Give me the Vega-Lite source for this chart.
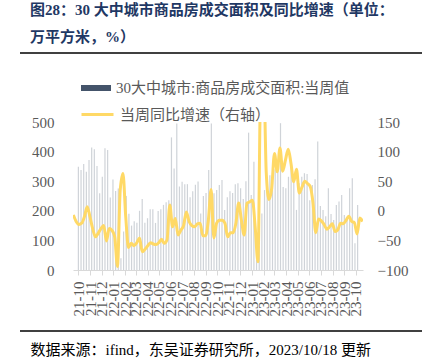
{
  "$schema": "https://vega.github.io/schema/vega-lite/v6.json",
  "width": 290,
  "height": 148,
  "autosize": "none",
  "padding": {"left": 73, "top": 122, "right": 61, "bottom": 94},
  "background": "white",
  "config": {"view": {"stroke": null}, "axisX": {"labelOverlap": false}},
  "title": {
    "text": ["图28：30 大中城市商品房成交面积及同比增速（单位：", "万平方米，%）"],
    "anchor": "start", "frame": "group", "dx": -43, "offset": 7,
    "font": "Liberation Serif, Noto Sans CJK SC", "fontSize": 15, "fontWeight": "bold",
    "color": "#1F3864", "lineHeight": 27
  },
  "data": {"values": [
    {"date": "2021-10-10", "v": 349, "y": -7},
    {"date": "2021-10-17", "v": 338, "y": -18},
    {"date": "2021-10-24", "v": 358, "y": -23},
    {"date": "2021-10-31", "v": 332, "y": -21},
    {"date": "2021-11-07", "v": 372, "y": -10},
    {"date": "2021-11-14", "v": 414, "y": 7},
    {"date": "2021-11-21", "v": 408, "y": -10},
    {"date": "2021-11-28", "v": 351, "y": -30},
    {"date": "2021-12-05", "v": 259, "y": -44},
    {"date": "2021-12-12", "v": 315, "y": -38},
    {"date": "2021-12-19", "v": 411, "y": -30},
    {"date": "2021-12-26", "v": 405, "y": -25},
    {"date": "2022-01-02", "v": 245, "y": -51},
    {"date": "2022-01-09", "v": 306, "y": -30},
    {"date": "2022-01-16", "v": 267, "y": -33},
    {"date": "2022-01-23", "v": 275, "y": -44},
    {"date": "2022-01-30", "v": 40, "y": -94},
    {"date": "2022-02-06", "v": 130, "y": 35},
    {"date": "2022-02-13", "v": 250, "y": 63},
    {"date": "2022-02-20", "v": 190, "y": -10},
    {"date": "2022-02-27", "v": 150, "y": -62},
    {"date": "2022-03-06", "v": 165, "y": -55},
    {"date": "2022-03-13", "v": 160, "y": -59},
    {"date": "2022-03-20", "v": 200, "y": -54},
    {"date": "2022-03-27", "v": 240, "y": -46},
    {"date": "2022-04-03", "v": 160, "y": -69},
    {"date": "2022-04-10", "v": 175, "y": -65},
    {"date": "2022-04-17", "v": 205, "y": -59},
    {"date": "2022-04-24", "v": 205, "y": -54},
    {"date": "2022-05-01", "v": 159, "y": -56},
    {"date": "2022-05-08", "v": 199, "y": -57},
    {"date": "2022-05-15", "v": 205, "y": -54},
    {"date": "2022-05-22", "v": 220, "y": -48},
    {"date": "2022-05-29", "v": 229, "y": -55},
    {"date": "2022-06-05", "v": 236, "y": -49},
    {"date": "2022-06-12", "v": 448, "y": 10},
    {"date": "2022-06-19", "v": 343, "y": -27},
    {"date": "2022-06-26", "v": 495, "y": -13},
    {"date": "2022-07-03", "v": 282, "y": -41},
    {"date": "2022-07-10", "v": 298, "y": -33},
    {"date": "2022-07-17", "v": 290, "y": -25},
    {"date": "2022-07-24", "v": 290, "y": -2},
    {"date": "2022-07-31", "v": 246, "y": -18},
    {"date": "2022-08-07", "v": 266, "y": -25},
    {"date": "2022-08-14", "v": 288, "y": -27},
    {"date": "2022-08-21", "v": 299, "y": -22},
    {"date": "2022-08-28", "v": 191, "y": -21},
    {"date": "2022-09-04", "v": 250, "y": -42},
    {"date": "2022-09-11", "v": 260, "y": -42},
    {"date": "2022-09-18", "v": 338, "y": -16},
    {"date": "2022-09-25", "v": 495, "y": 36},
    {"date": "2022-10-02", "v": 259, "y": -46},
    {"date": "2022-10-09", "v": 270, "y": -21},
    {"date": "2022-10-16", "v": 287, "y": -16},
    {"date": "2022-10-23", "v": 304, "y": -16},
    {"date": "2022-10-30", "v": 203, "y": -21},
    {"date": "2022-11-06", "v": 246, "y": -44},
    {"date": "2022-11-13", "v": 266, "y": -37},
    {"date": "2022-11-20", "v": 260, "y": -37},
    {"date": "2022-11-27", "v": 290, "y": -21},
    {"date": "2022-12-04", "v": 293, "y": 13},
    {"date": "2022-12-11", "v": 276, "y": -16},
    {"date": "2022-12-18", "v": 240, "y": -41},
    {"date": "2022-12-25", "v": 300, "y": 13},
    {"date": "2023-01-01", "v": 464, "y": 15},
    {"date": "2023-01-08", "v": 253, "y": 18},
    {"date": "2023-01-15", "v": 366, "y": -27},
    {"date": "2023-01-22", "v": 34, "y": -86},
    {"date": "2023-01-29", "v": 80, "y": 220},
    {"date": "2023-02-05", "v": 191, "y": 250},
    {"date": "2023-02-12", "v": 270, "y": 66},
    {"date": "2023-02-19", "v": 290, "y": 19},
    {"date": "2023-02-26", "v": 320, "y": 38},
    {"date": "2023-03-05", "v": 300, "y": 97},
    {"date": "2023-03-12", "v": 340, "y": 66},
    {"date": "2023-03-19", "v": 370, "y": 106},
    {"date": "2023-03-26", "v": 496, "y": 67},
    {"date": "2023-04-02", "v": 280, "y": 86},
    {"date": "2023-04-09", "v": 276, "y": 104},
    {"date": "2023-04-16", "v": 315, "y": 80},
    {"date": "2023-04-23", "v": 360, "y": 49},
    {"date": "2023-04-30", "v": 324, "y": 70},
    {"date": "2023-05-07", "v": 203, "y": 30},
    {"date": "2023-05-14", "v": 293, "y": 40},
    {"date": "2023-05-21", "v": 315, "y": 50},
    {"date": "2023-05-28", "v": 327, "y": 46},
    {"date": "2023-06-04", "v": 324, "y": 41},
    {"date": "2023-06-11", "v": 236, "y": 13},
    {"date": "2023-06-18", "v": 287, "y": -37},
    {"date": "2023-06-25", "v": 307, "y": -14},
    {"date": "2023-07-02", "v": 434, "y": -17},
    {"date": "2023-07-09", "v": 216, "y": -23},
    {"date": "2023-07-16", "v": 203, "y": -31},
    {"date": "2023-07-23", "v": 182, "y": -27},
    {"date": "2023-07-30", "v": 276, "y": -22},
    {"date": "2023-08-06", "v": 189, "y": -35},
    {"date": "2023-08-13", "v": 169, "y": -32},
    {"date": "2023-08-20", "v": 220, "y": -21},
    {"date": "2023-08-27", "v": 231, "y": -22},
    {"date": "2023-09-03", "v": 253, "y": -16},
    {"date": "2023-09-10", "v": 186, "y": -9},
    {"date": "2023-09-17", "v": 169, "y": -18},
    {"date": "2023-09-24", "v": 276, "y": -20},
    {"date": "2023-10-01", "v": 310, "y": -39},
    {"date": "2023-10-08", "v": 90, "y": -12},
    {"date": "2023-10-15", "v": 220, "y": -18}
  ]},
  "layer": [
    {
      "mark": {"type": "bar", "size": 1.2, "opacity": 0.26},
      "encoding": {
        "x": {
          "field": "date", "type": "temporal",
          "scale": {"type": "utc", "domain": [{"year": 2021, "month": 10, "date": 9, "utc": true}, {"year": 2023, "month": 10, "date": 16, "utc": true}]},
          "axis": {
            "values": [
              {"year": 2021, "month": 10, "date": 10, "utc": true},
              {"year": 2021, "month": 11, "date": 10, "utc": true},
              {"year": 2021, "month": 12, "date": 10, "utc": true},
              {"year": 2022, "month": 1, "date": 10, "utc": true},
              {"year": 2022, "month": 2, "date": 10, "utc": true},
              {"year": 2022, "month": 3, "date": 10, "utc": true},
              {"year": 2022, "month": 4, "date": 10, "utc": true},
              {"year": 2022, "month": 5, "date": 10, "utc": true},
              {"year": 2022, "month": 6, "date": 10, "utc": true},
              {"year": 2022, "month": 7, "date": 10, "utc": true},
              {"year": 2022, "month": 8, "date": 10, "utc": true},
              {"year": 2022, "month": 9, "date": 10, "utc": true},
              {"year": 2022, "month": 10, "date": 10, "utc": true},
              {"year": 2022, "month": 11, "date": 10, "utc": true},
              {"year": 2022, "month": 12, "date": 10, "utc": true},
              {"year": 2023, "month": 1, "date": 10, "utc": true},
              {"year": 2023, "month": 2, "date": 10, "utc": true},
              {"year": 2023, "month": 3, "date": 10, "utc": true},
              {"year": 2023, "month": 4, "date": 10, "utc": true},
              {"year": 2023, "month": 5, "date": 10, "utc": true},
              {"year": 2023, "month": 6, "date": 10, "utc": true},
              {"year": 2023, "month": 7, "date": 10, "utc": true},
              {"year": 2023, "month": 8, "date": 10, "utc": true},
              {"year": 2023, "month": 9, "date": 10, "utc": true},
              {"year": 2023, "month": 10, "date": 10, "utc": true}
            ],
            "format": "%y-%m", "labelAngle": 270, "labelOverlap": false, "labelBound": false, "labelFlush": false,
            "labelFont": "Liberation Serif", "labelFontSize": 15, "labelColor": "#595959", "labelPadding": 6,
            "domainColor": "#D9D9D9", "tickColor": "#D9D9D9", "tickSize": 5, "grid": false,
            "title": "数据来源：ifind，东吴证券研究所，2023/10/18 更新",
            "titleX": -43, "titleY": 79, "titleAlign": "left", "titleBaseline": "middle", "titleAngle": 0,
            "titleFont": "Liberation Serif, Noto Sans CJK SC", "titleFontSize": 15, "titleFontWeight": "normal", "titleColor": "#000000"
          }
        },
        "y": {
          "field": "v", "type": "quantitative", "scale": {"domain": [0, 500]},
          "axis": {"values": [0, 100, 200, 300, 400, 500], "grid": false, "domain": false, "ticks": false,
            "labelFont": "Liberation Serif", "labelFontSize": 15, "labelColor": "#595959", "labelPadding": 19, "title": null}
        },
        "color": {
          "datum": "30大中城市:商品房成交面积:当周值",
          "scale": {"range": ["#44546A"]},
          "legend": {"orient": "none", "legendX": 8, "legendY": -49, "title": null,
            "symbolType": "M-1,-0.2H1V0.2H-1Z", "symbolSize": 900, "symbolOpacity": 1, "symbolStrokeWidth": 0,
            "labelFont": "Liberation Serif, Noto Sans CJK SC", "labelFontSize": 15, "labelColor": "#595959", "labelLimit": 400, "labelOffset": 5}
        }
      }
    },
    {
      "mark": {"type": "line", "strokeWidth": 3, "interpolate": "monotone", "clip": true},
      "encoding": {
        "x": {
          "field": "date", "type": "temporal",
          "scale": {"type": "utc", "domain": [{"year": 2021, "month": 10, "date": 9, "utc": true}, {"year": 2023, "month": 10, "date": 16, "utc": true}]},
          "axis": null
        },
        "y": {
          "field": "y", "type": "quantitative", "scale": {"domain": [-100, 150]},
          "axis": {"orient": "right", "values": [-100, -50, 0, 50, 100, 150], "grid": false, "domain": false, "ticks": false,
            "labelFont": "Liberation Serif", "labelFontSize": 15, "labelColor": "#595959", "labelPadding": 14, "title": null}
        },
        "color": {
          "datum": "当周同比增速（右轴）",
          "scale": {"range": ["#FFD966"]},
          "legend": {"orient": "none", "legendX": 7, "legendY": -25, "title": null,
            "symbolType": "stroke", "symbolSize": 1024, "symbolStrokeWidth": 3,
            "labelFont": "Liberation Serif, Noto Sans CJK SC", "labelFontSize": 15, "labelColor": "#595959", "labelLimit": 400, "labelOffset": 5}
        }
      }
    },
    {
      "data": {"values": [{"a": 0, "b": 1, "r": 0}, {"a": 0, "b": 1, "r": 1}]},
      "mark": {"type": "rule", "color": "#000000", "strokeWidth": 1.5},
      "encoding": {
        "x": {"field": "a", "type": "quantitative", "scale": {"domain": [0, 1], "range": [-53, 349]}, "axis": null},
        "x2": {"field": "b"},
        "y": {"field": "r", "type": "quantitative", "scale": {"domain": [0, 1], "range": [-69, 209]}, "axis": null}
      }
    }
  ],
  "resolve": {"scale": {"x": "independent", "y": "independent", "color": "independent"}}
}
